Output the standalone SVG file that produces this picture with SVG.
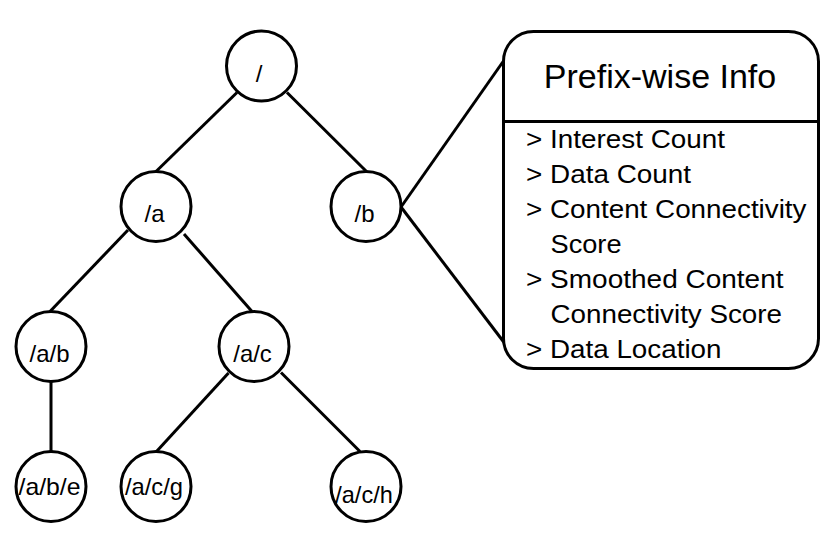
<svg xmlns="http://www.w3.org/2000/svg" width="832" height="533" viewBox="0 0 832 533">
<style>
.node{fill:#fff;stroke:#000;stroke-width:3}
.edge{stroke:#000;stroke-width:3;fill:none}
.lbl{font-family:"Liberation Sans",Arial,sans-serif;font-size:24px;fill:#000;text-anchor:middle}
.title{font-family:"Liberation Sans",Arial,sans-serif;font-size:34px;fill:#000;text-anchor:middle}
.item{font-family:"Liberation Sans",Arial,sans-serif;font-size:26px;fill:#000}
</style>
<rect width="832" height="533" fill="#fff"/>
<g id="connectors">
<line class="edge" x1="237" y1="92.5" x2="156" y2="171.5"/>
<line class="edge" x1="287" y1="92.5" x2="366.5" y2="171.5"/>
<line class="edge" x1="128" y1="230" x2="50" y2="311.5"/>
<line class="edge" x1="184" y1="234" x2="252" y2="311.5"/>
<line class="edge" x1="51" y1="382" x2="51" y2="451.5"/>
<line class="edge" x1="228.5" y1="373" x2="156.5" y2="451.5"/>
<line class="edge" x1="281" y1="372.5" x2="360" y2="451.5"/>
<line class="edge" x1="401" y1="207" x2="503.5" y2="61"/>
<line class="edge" x1="401" y1="207" x2="506" y2="345"/>
</g>
<g id="node-root"><circle class="node" cx="261.5" cy="66" r="35"/><text class="lbl" x="259" y="82">/</text></g>
<g id="node-a"><circle class="node" cx="156" cy="206.5" r="35"/><text class="lbl" x="154.5" y="221.5">/a</text></g>
<g id="node-b"><circle class="node" cx="366" cy="206.5" r="35"/><text class="lbl" x="364.5" y="221.5">/b</text></g>
<g id="node-ab"><circle class="node" cx="51" cy="346.5" r="35"/><text class="lbl" x="49.5" y="361.5" textLength="40" lengthAdjust="spacingAndGlyphs">/a/b</text></g>
<g id="node-ac"><circle class="node" cx="254" cy="346.5" r="35"/><text class="lbl" x="252.5" y="361.5" textLength="38.5" lengthAdjust="spacingAndGlyphs">/a/c</text></g>
<g id="node-abe"><circle class="node" cx="51" cy="486.5" r="35"/><text class="lbl" x="49.5" y="494.5" textLength="62" lengthAdjust="spacingAndGlyphs">/a/b/e</text></g>
<g id="node-acg"><circle class="node" cx="156" cy="486.5" r="35"/><text class="lbl" x="154" y="494.5" textLength="58" lengthAdjust="spacingAndGlyphs">/a/c/g</text></g>
<g id="node-ach"><circle class="node" cx="366" cy="486.5" r="35"/><text class="lbl" x="364" y="502.5" textLength="57.5" lengthAdjust="spacingAndGlyphs">/a/c/h</text></g>
<g id="info-box">
<rect class="node" x="503.5" y="31.5" width="315" height="337" rx="30" ry="30"/>
<line class="edge" x1="503.5" y1="121.5" x2="818.5" y2="121.5"/>
<text class="title" x="660" y="88">Prefix-wise Info</text>
<text class="item" x="526" y="147.5" textLength="199" lengthAdjust="spacingAndGlyphs">&gt; Interest Count</text>
<text class="item" x="526" y="182.5" textLength="165" lengthAdjust="spacingAndGlyphs">&gt; Data Count</text>
<text class="item" x="526" y="218" textLength="280.5" lengthAdjust="spacingAndGlyphs">&gt; Content Connectivity</text>
<text class="item" x="550.5" y="253" textLength="71" lengthAdjust="spacingAndGlyphs">Score</text>
<text class="item" x="526" y="288" textLength="257.5" lengthAdjust="spacingAndGlyphs">&gt; Smoothed Content</text>
<text class="item" x="550.5" y="323" textLength="231.5" lengthAdjust="spacingAndGlyphs">Connectivity Score</text>
<text class="item" x="526" y="358" textLength="195.5" lengthAdjust="spacingAndGlyphs">&gt; Data Location</text>
</g>
</svg>
